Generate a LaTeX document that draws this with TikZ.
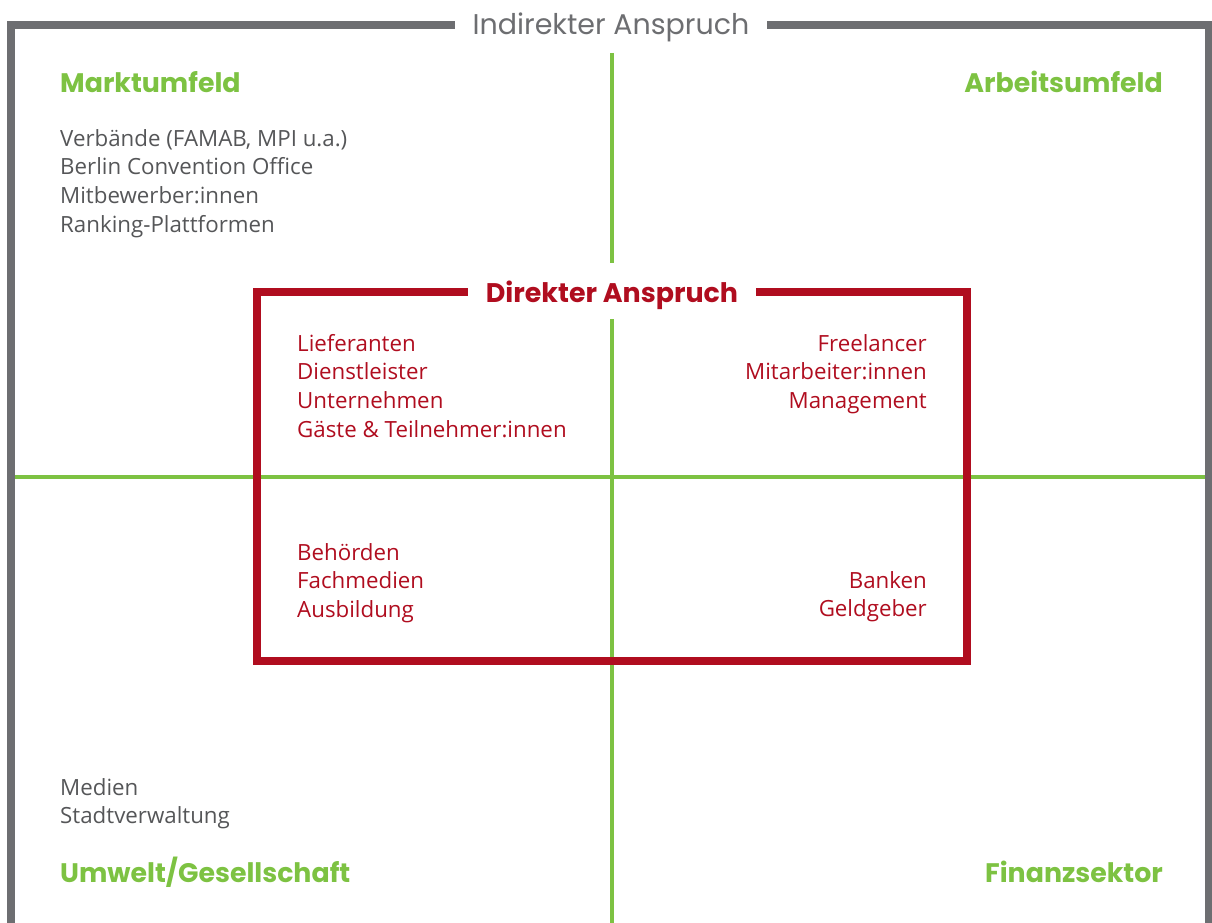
\documentclass[tikz,border=0pt]{standalone}
\usepackage{fontspec}
\setmainfont{Open Sans}
\newfontfamily\kopffont{Poppins}
\usetikzlibrary{positioning}
\definecolor{rahmengrau}{HTML}{6D6E71}
\definecolor{textgrau}{HTML}{555658}
\definecolor{feldgruen}{HTML}{7DC242}
\definecolor{direktrot}{HTML}{B00D1F}

\begin{document}
\begin{tikzpicture}[x=1pt, y=-1pt,
    kopf/.style={text=feldgruen, inner sep=0pt, font=\kopffont\bfseries\fontsize{26.8}{30}\selectfont},
    titel/.style={fill=white, inner xsep=18pt, inner ysep=2pt, font=\kopffont\fontsize{28.5}{32}\selectfont},
    liste/.style={align=left, inner sep=0pt, font=\fontsize{22.3}{28.7}\selectfont},
    rliste/.style={align=right, inner sep=0pt, font=\fontsize{22.3}{28.7}\selectfont}]
        \useasboundingbox (0,0) rectangle (1212,923);
        % Quadranten
        \coordinate (OBEN) at (612,53);
        \coordinate (ROTOBEN) at (612,263);
        \coordinate (ROTUNTEN) at (612,319);
        \coordinate (UNTEN) at (612,923);
        \coordinate (LINKS) at (11,477);
        \coordinate (RECHTS) at (1209,477);
        \draw[feldgruen, line width=3.5pt] (OBEN) -- (ROTOBEN);
        \draw[feldgruen, line width=3.5pt] (ROTUNTEN) -- (UNTEN);
        \draw[feldgruen, line width=3.5pt] (LINKS) -- (RECHTS);
        % aeusserer Rahmen
        \draw[rahmengrau, line width=8pt] (11,923) -- (11,25) -- (1209,25) -- (1209,923);
        \node[titel, text=rahmengrau] (INDIREKT) at (611,27) {Indirekter Anspruch};
        % innerer Rahmen
        \draw[direktrot, line width=8pt] (257,292) rectangle (967,661);
        \node[titel, text=direktrot, font=\kopffont\bfseries\fontsize{26.9}{30}\selectfont] (DIREKT) at (612,295) {Direkter Anspruch};
        % Ueberschriften
        \node[kopf, anchor=west] (MARKT) at (60,82) {Marktumfeld};
        \node[kopf, anchor=east] (ARBEIT) at (1163,82) {Arbeitsumfeld};
        \node[kopf, anchor=west] (UMWELT) at (60,872) {Umwelt/Gesellschaft};
        \node[kopf, anchor=east] (FINANZ) at (1163,872) {Finanzsektor};
        % indirekte Gruppen
        \node[liste, text=textgrau, anchor=north west] (MARKTLISTE) at (60,129)
            {Verbände (FAMAB, MPI u.a.)\\Berlin Convention Office\\Mitbewerber:innen\\Ranking-Plattformen};
        \node[liste, text=textgrau, anchor=north west] (UMWELTLISTE) at (60,778)
            {Medien\\Stadtverwaltung};
        % direkte Gruppen
        \node[liste, text=direktrot, anchor=north west] (MARKTDIREKT) at (297,334)
            {Lieferanten\\Dienstleister\\Unternehmen\\Gäste \& Teilnehmer:innen};
        \node[rliste, text=direktrot, anchor=north east] (ARBEITDIREKT) at (927,334)
            {Freelancer\\Mitarbeiter:innen\\Management};
        \node[liste, text=direktrot, anchor=north west] (UMWELTDIREKT) at (297,543)
            {Behörden\\Fachmedien\\Ausbildung};
        \node[rliste, text=direktrot, anchor=north east] (FINANZDIREKT) at (927,571)
            {Banken\\Geldgeber};
\end{tikzpicture}
\end{document}
